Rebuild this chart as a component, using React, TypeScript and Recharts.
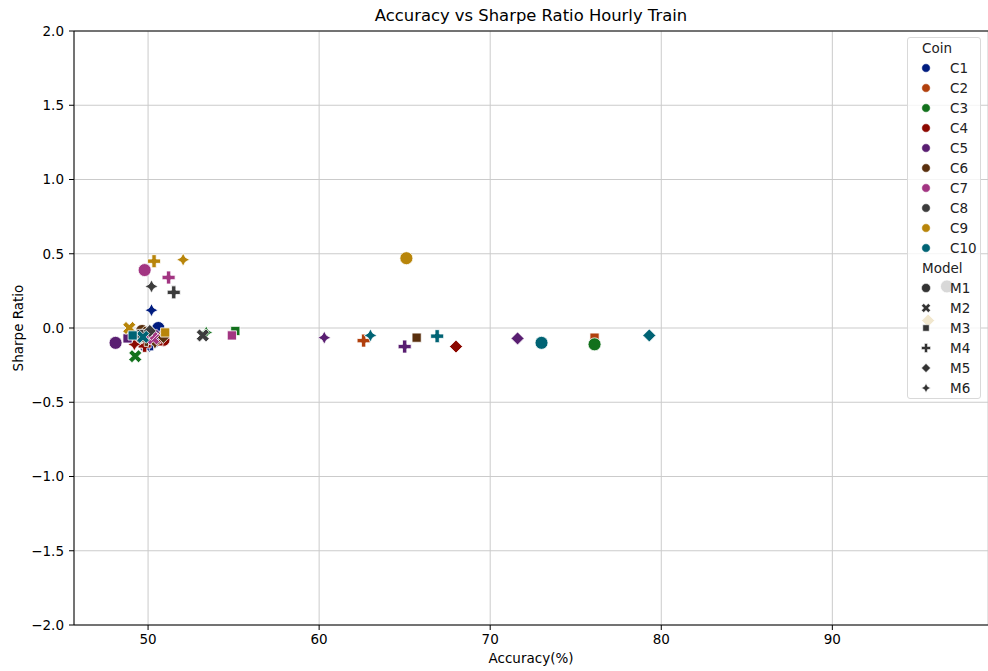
import React from 'react';
import {
  ScatterChart,
  Scatter,
  XAxis,
  YAxis,
  CartesianGrid,
  ReferenceLine
} from 'recharts';

// coin / model names and the seaborn "dark" palette
const coins = ['C1', 'C2', 'C3', 'C4', 'C5', 'C6', 'C7', 'C8', 'C9', 'C10'];
const coinColors = ['#001c7f', '#b1400d', '#12711c', '#8c0800', '#591e71', '#592f0d', '#a23582', '#3c3c3c', '#b8850a', '#006374'];
const models = ['M1', 'M2', 'M3', 'M4', 'M5', 'M6'];

// accuracy (%) and sharpe ratio per coin, one entry per model
const c1 = [
  { model: 'M1', accuracy: 50.6, sharpe: 0.0 },
  { model: 'M2', accuracy: 49.9, sharpe: -0.12 },
  { model: 'M3', accuracy: 50.4, sharpe: -0.07 },
  { model: 'M4', accuracy: 50.2, sharpe: -0.11 },
  { model: 'M5', accuracy: 50.5, sharpe: -0.09 },
  { model: 'M6', accuracy: 50.2, sharpe: 0.12 }
];
const c2 = [
  { model: 'M1', accuracy: 50.0, sharpe: -0.06 },
  { model: 'M2', accuracy: 49.5, sharpe: -0.08 },
  { model: 'M3', accuracy: 76.1, sharpe: -0.065 },
  { model: 'M4', accuracy: 62.6, sharpe: -0.085 },
  { model: 'M5', accuracy: 50.8, sharpe: -0.05 },
  { model: 'M6', accuracy: 49.8, sharpe: -0.04 }
];
const c3 = [
  { model: 'M1', accuracy: 76.1, sharpe: -0.11 },
  { model: 'M2', accuracy: 49.25, sharpe: -0.19 },
  { model: 'M3', accuracy: 55.1, sharpe: -0.02 },
  { model: 'M4', accuracy: 50.1, sharpe: -0.06 },
  { model: 'M5', accuracy: 49.7, sharpe: -0.09 },
  { model: 'M6', accuracy: 53.4, sharpe: -0.03 }
];
const c4 = [
  { model: 'M1', accuracy: 50.9, sharpe: -0.08 },
  { model: 'M2', accuracy: 49.4, sharpe: -0.1 },
  { model: 'M3', accuracy: 50.6, sharpe: -0.09 },
  { model: 'M4', accuracy: 49.8, sharpe: -0.12 },
  { model: 'M5', accuracy: 68.0, sharpe: -0.125 },
  { model: 'M6', accuracy: 49.2, sharpe: -0.11 }
];
const c5 = [
  { model: 'M1', accuracy: 48.1, sharpe: -0.1 },
  { model: 'M2', accuracy: 50.3, sharpe: -0.05 },
  { model: 'M3', accuracy: 48.8, sharpe: -0.07 },
  { model: 'M4', accuracy: 65.0, sharpe: -0.125 },
  { model: 'M5', accuracy: 71.6, sharpe: -0.07 },
  { model: 'M6', accuracy: 60.3, sharpe: -0.065 }
];
const c6 = [
  { model: 'M1', accuracy: 49.65, sharpe: -0.02 },
  { model: 'M2', accuracy: 50.0, sharpe: -0.03 },
  { model: 'M3', accuracy: 65.7, sharpe: -0.065 },
  { model: 'M4', accuracy: 49.9, sharpe: -0.08 },
  { model: 'M5', accuracy: 50.9, sharpe: -0.06 },
  { model: 'M6', accuracy: 50.4, sharpe: -0.1 }
];
const c7 = [
  { model: 'M1', accuracy: 49.8, sharpe: 0.39 },
  { model: 'M2', accuracy: 50.3, sharpe: -0.07 },
  { model: 'M3', accuracy: 54.9, sharpe: -0.05 },
  { model: 'M4', accuracy: 51.2, sharpe: 0.34 },
  { model: 'M5', accuracy: 50.2, sharpe: -0.04 },
  { model: 'M6', accuracy: 49.9, sharpe: -0.05 }
];
const c8 = [
  { model: 'M1', accuracy: 96.7, sharpe: 0.28 },
  { model: 'M2', accuracy: 53.2, sharpe: -0.05 },
  { model: 'M3', accuracy: 49.6, sharpe: -0.04 },
  { model: 'M4', accuracy: 51.5, sharpe: 0.24 },
  { model: 'M5', accuracy: 50.1, sharpe: -0.02 },
  { model: 'M6', accuracy: 50.2, sharpe: 0.28 }
];
const c9 = [
  { model: 'M1', accuracy: 65.1, sharpe: 0.47 },
  { model: 'M2', accuracy: 48.9, sharpe: 0.0 },
  { model: 'M3', accuracy: 51.0, sharpe: -0.03 },
  { model: 'M4', accuracy: 50.35, sharpe: 0.45 },
  { model: 'M5', accuracy: 95.6, sharpe: 0.05 },
  { model: 'M6', accuracy: 52.05, sharpe: 0.46 }
];
const c10 = [
  { model: 'M1', accuracy: 73.0, sharpe: -0.1 },
  { model: 'M2', accuracy: 49.7, sharpe: -0.06 },
  { model: 'M3', accuracy: 49.1, sharpe: -0.05 },
  { model: 'M4', accuracy: 66.9, sharpe: -0.055 },
  { model: 'M5', accuracy: 79.3, sharpe: -0.05 },
  { model: 'M6', accuracy: 63.0, sharpe: -0.05 }
];
const coinData = [c1, c2, c3, c4, c5, c6, c7, c8, c9, c10];

const xTicks = [50, 60, 70, 80, 90];
const yTicks = [-2, -1.5, -1, -0.5, 0, 0.5, 1, 1.5, 2];

const FONT = '"DejaVu Sans", sans-serif';
const FS = 13.5;
const MARKER = 13;

// matplotlib filled 'X' and 'P' outlines in a unit box
const xPts = [[0.25, 0], [0.5, 0.25], [0.75, 0], [1, 0.25], [0.75, 0.5], [1, 0.75], [0.75, 1], [0.5, 0.75], [0.25, 1], [0, 0.75], [0.25, 0.5], [0, 0.25]];
const plusPts = [[1 / 3, 0], [2 / 3, 0], [2 / 3, 1 / 3], [1, 1 / 3], [1, 2 / 3], [2 / 3, 2 / 3], [2 / 3, 1], [1 / 3, 1], [1 / 3, 2 / 3], [0, 2 / 3], [0, 1 / 3], [1 / 3, 1 / 3]];

const polyPath = (pts: number[][], cx: number, cy: number, s: number) =>
  pts.map((p, i) => `${i ? 'L' : 'M'}${cx + (p[0] - 0.5) * s},${cy + (p[1] - 0.5) * s}`).join('') + 'Z';

const radialPath = (cx: number, cy: number, radii: number[], startDeg: number) => {
  const n = radii.length;
  return radii.map((r, i) => {
    const a = ((startDeg + (360 / n) * i) * Math.PI) / 180;
    return `${i ? 'L' : 'M'}${cx + r * Math.cos(a)},${cy - r * Math.sin(a)}`;
  }).join('') + 'Z';
};

const MarkerShape = ({ cx, cy, model, fill, size, stroke, sw }: any) => {
  const s = size;
  const common = { fill, stroke, strokeWidth: sw };
  switch (model) {
    case 'M1':
      return <circle cx={cx} cy={cy} r={s / 2} {...common} />;
    case 'M2':
      return <path d={polyPath(xPts, cx, cy, s)} {...common} />;
    case 'M3':
      return <path d={radialPath(cx, cy, [s / 2, s / 2, s / 2, s / 2], 45)} {...common} />;
    case 'M4':
      return <path d={polyPath(plusPts, cx, cy, s)} {...common} />;
    case 'M5':
      return <path d={radialPath(cx, cy, [s / 2, s / 2, s / 2, s / 2], 90)} {...common} />;
    default:
      return <path d={radialPath(cx, cy, [s / 2, s / 4, s / 2, s / 4, s / 2, s / 4, s / 2, s / 4], 90)} {...common} />;
  }
};

const fmt = (v: number) => v.toFixed(1).replace('-', '\u2212');

const LegendBox = () => {
  const row = { height: 20, display: 'flex', alignItems: 'center' } as React.CSSProperties;
  return (
    <div style={{
      position: 'absolute', left: 907, top: 37, width: 74, height: 362,
      border: '1px solid #d9d9d9', borderRadius: 3, background: 'rgba(255,255,255,0.8)',
      fontFamily: FONT, fontSize: FS, color: '#222', boxSizing: 'border-box'
    }}>
      <div style={{ ...row, paddingLeft: 14 }}>Coin</div>
      {coins.map((c, i) => (
        <div key={c} style={row}>
          <svg width={42} height={20}>
            <MarkerShape cx={18} cy={10} model="M1" fill={coinColors[i]} size={8.5} stroke="#fff" sw={0.5} />
          </svg>
          <span>{c}</span>
        </div>
      ))}
      <div style={{ ...row, paddingLeft: 14 }}>Model</div>
      {models.map(m => (
        <div key={m} style={row}>
          <svg width={42} height={20}>
            <MarkerShape cx={18} cy={10} model={m} fill="#333" size={9} stroke="#fff" sw={0.5} />
          </svg>
          <span>{m}</span>
        </div>
      ))}
    </div>
  );
};

export default function App() {
  return (
    <div style={{ position: 'absolute', left: 0, top: 0, width: 988, height: 671, background: '#fff', fontFamily: FONT }}>
      <div style={{ position: 'absolute', left: 74, width: 914, top: 6, textAlign: 'center', fontSize: 16.4, color: '#000' }}>
        Accuracy vs Sharpe Ratio Hourly Train
      </div>
      <ScatterChart width={988} height={671} margin={{ top: 31, right: 0, bottom: 6, left: 14 }}>
        <CartesianGrid stroke="#cbcbcb" strokeWidth={1} />
        <XAxis
          type="number"
          dataKey="accuracy"
          domain={[45.67, 99.1]}
          ticks={xTicks}
          allowDataOverflow
          height={40}
          stroke="#000"
          tickSize={5}
          tickMargin={4}
          tick={{ fill: '#000', fontSize: FS, fontFamily: FONT }}
          label={{ value: 'Accuracy(%)', position: 'insideBottom', offset: 2, fill: '#000', fontSize: FS, fontFamily: FONT }}
        />
        <YAxis
          type="number"
          dataKey="sharpe"
          domain={[-2, 2]}
          ticks={yTicks}
          allowDataOverflow
          width={60}
          stroke="#000"
          tickSize={5}
          tickMargin={5}
          tickFormatter={fmt}
          tick={{ fill: '#000', fontSize: FS, fontFamily: FONT }}
          label={{ value: 'Sharpe Ratio', angle: -90, position: 'insideLeft', offset: 4, fill: '#000', fontSize: FS, fontFamily: FONT, style: { textAnchor: 'middle' } }}
        />
        <ReferenceLine y={2} stroke="#000" strokeWidth={1} />
        {coinData.map((d, i) => (
          <Scatter
            key={coins[i]}
            name={coins[i]}
            data={d}
            fill={coinColors[i]}
            isAnimationActive={false}
            shape={(p: any) => (
              <MarkerShape cx={p.cx} cy={p.cy} model={p.payload.model} fill={coinColors[i]} size={MARKER} stroke="#fff" sw={0.8} />
            )}
          />
        ))}
      </ScatterChart>
      <LegendBox />
    </div>
  );
}
